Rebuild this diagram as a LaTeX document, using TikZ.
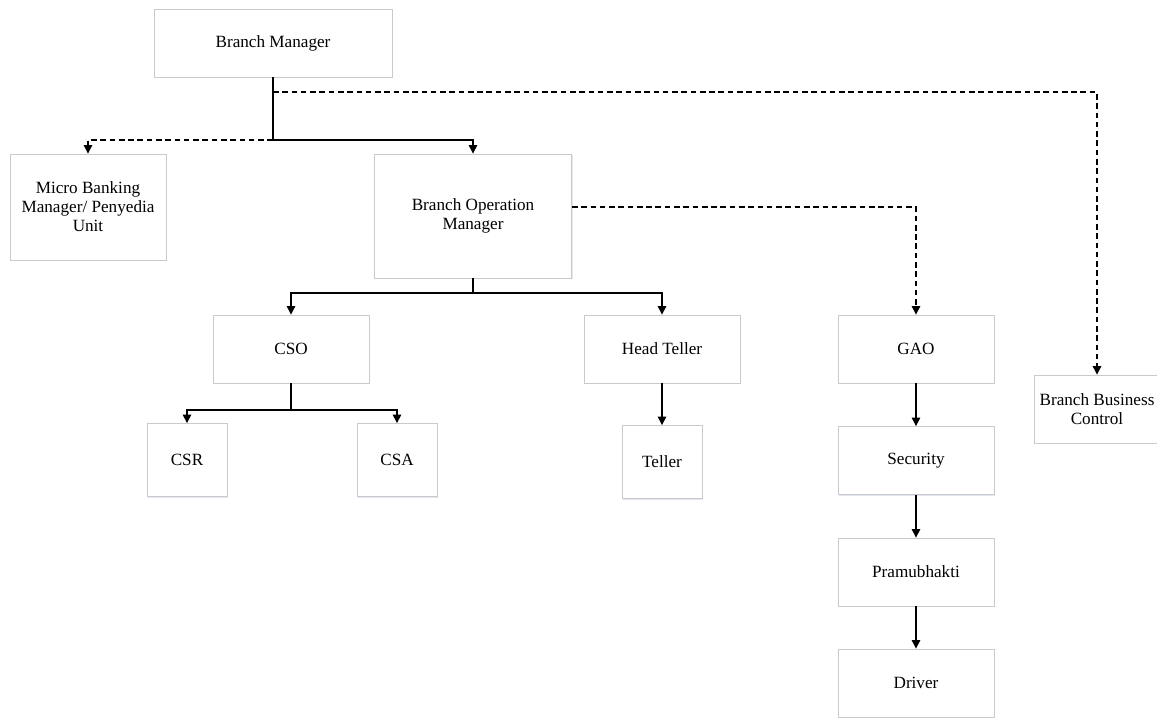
\documentclass[tikz,border=0pt]{standalone}
\usepackage{fontspec}
\setmainfont{Liberation Serif}
\usepackage{xcolor}
\usepackage{tikz}
\usetikzlibrary{arrows.meta,shadows}

\definecolor{boxline}{RGB}{200,202,206}
\definecolor{boxshade}{RGB}{226,231,240}

\begin{document}
\begin{tikzpicture}[x=0.025cm, y=-0.025cm,
    unit/.style={draw=boxline, line width=0.6pt, fill=white, inner sep=0pt,
        drop shadow={fill=boxshade, shadow xshift=0.9pt, shadow yshift=-0.9pt, opacity=1},
        align=center, font=\fontsize{12.2}{13.6}\selectfont},
    conn/.style={line width=0.9pt, -{Triangle[width=6pt,length=6pt]}},
    dconn/.style={conn, dash pattern=on 4pt off 2.6pt}]
    \useasboundingbox (0,0) rectangle (1157,718);

    % Top level
    \node[unit, minimum width=5.95cm, minimum height=1.7cm] (bm) at (273,43) {Branch Manager};
    \node[unit, minimum width=3.9cm, minimum height=2.65cm] (micro) at (88,207) {Micro Banking\\Manager/ Penyedia\\Unit};
    \node[unit, minimum width=4.925cm, minimum height=3.1cm] (bom) at (473,216) {Branch Operation\\Manager};
    \node[unit, minimum width=3.15cm, minimum height=1.7cm] (bbc) at (1097,409) {Branch Business\\Control};

    % Second row
    \foreach \name/\x/\txt in {cso/291/CSO, ht/662/Head Teller, gao/916/GAO} {
        \node[unit, minimum width=3.9cm, minimum height=1.7cm] (\name) at (\x,349) {\txt};
    }
    % Small boxes
    \foreach \name/\x/\y/\txt in {csr/187/460/CSR, csa/397/460/CSA, teller/662/462/Teller} {
        \node[unit, minimum width=2cm, minimum height=1.825cm] (\name) at (\x,\y) {\txt};
    }
    % GAO column
    \node[unit, minimum width=3.9cm, minimum height=1.7cm] (sec) at (916,460.5) {Security};
    \node[unit, minimum width=3.9cm, minimum height=1.7cm] (pram) at (916,572) {Pramubhakti};
    \node[unit, minimum width=3.9cm, minimum height=1.7cm] (driver) at (916,683) {Driver};

    % Branch points
    \coordinate (split) at (273,140);
    \coordinate (dsplit) at (273,92);
    \coordinate (bomsplit) at (473,293);
    \coordinate (csosplit) at (291,410);

    % Lines from Branch Manager
    \draw[line width=0.9pt] (bm.south) -- (split);
    \draw[conn] (split) -| (bom.north);
    \draw[dconn] (split) -| (micro.north);
    \draw[dconn] (dsplit) -| (bbc.north);

    % Lines from Branch Operation Manager
    \draw[dconn] ([yshift=0.225cm]bom.east) -| (gao.north);
    \draw[line width=0.9pt] (bom.south) -- (bomsplit);
    \draw[conn] (bomsplit) -| (cso.north);
    \draw[conn] (bomsplit) -| (ht.north);

    % Lower levels
    \draw[line width=0.9pt] (cso.south) -- (csosplit);
    \draw[conn] (csosplit) -| (csr.north);
    \draw[conn] (csosplit) -| (csa.north);
    \draw[conn] (ht.south) -- (teller.north);
    \draw[conn] (gao.south) -- (sec.north);
    \draw[conn] (sec.south) -- (pram.north);
    \draw[conn] (pram.south) -- (driver.north);
\end{tikzpicture}
\end{document}
